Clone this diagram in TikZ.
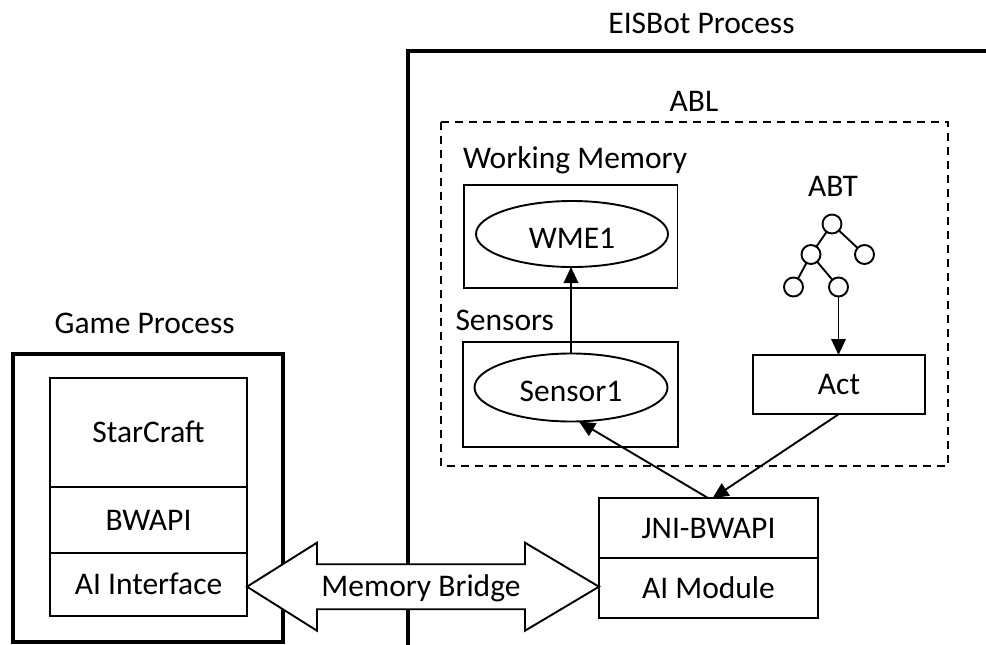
\documentclass[tikz,border=0pt]{standalone}
\usepackage{fontspec}
\setmainfont{Carlito}
\usetikzlibrary{arrows.meta,calc,shapes.geometric}
\begin{document}
\begin{tikzpicture}[x=1pt,y=-1pt,
  every node/.style={font=\fontsize{31.5}{38}\selectfont, inner sep=0pt, outer sep=0pt},
  thinline/.style={line width=1.9pt},
  thickframe/.style={line width=4pt},
  box/.style={draw, line width=1.9pt, rectangle, text height=20pt, text depth=0pt},
  oval/.style={draw, line width=1.9pt, ellipse, text height=28pt, text depth=0pt},
  tnode/.style={draw, line width=1.9pt, circle, minimum size=19pt},
  arr/.style={line width=1.9pt, -{Triangle[length=16pt,width=14.5pt]}},
  ablbox/.style={line width=2pt, dash pattern=on 8pt off 6pt},
]
\useasboundingbox (0,0) rectangle (986,645);

% EISBot process frame (open to the right and bottom)
\draw[thickframe] (407.5,660) -- (407.5,50.7) -- (1000,50.7);
\node[anchor=base] (eislbl) at (701.5,33.3) {EISBot Process};

% ABL dashed region
\draw[ablbox] (441,121.7) rectangle (947.7,466);
\node[anchor=base] (abllbl) at (694,111.7) {ABL};

% Working memory
\node[anchor=base west] (wmlbl) at (463,168) {Working Memory};
\node[draw, thinline, minimum width=213.5pt, minimum height=103pt] (wm) at (570.7,236.5) {};
\node[oval, minimum width=192pt, minimum height=66pt] (wme) at (572,234) {WME1};

% Sensors
\node[anchor=base west] (senlbl) at (455.5,330.7) {Sensors};
\node[draw, thinline, minimum width=214.4pt, minimum height=105pt] (sens) at (570.5,394.2) {};
\node[oval, minimum width=193pt, minimum height=68pt] (sen1) at (571,387.5) {Sensor1};

% ABT tree
\node[anchor=base] (abtlbl) at (833,196.7) {ABT};
\node[tnode] (t0) at (832,224) {};
\node[tnode] (t1) at (811,254.5) {};
\node[tnode] (t2) at (864.5,254.5) {};
\node[tnode] (t3) at (793.5,287) {};
\node[tnode] (t4) at (838.5,287) {};
\draw[thinline] (t0) -- (t1);
\draw[thinline] (t0) -- (t2);
\draw[thinline] (t1) -- (t3);
\draw[thinline] (t1) -- (t4);

% Act
\node[box, minimum width=172pt, minimum height=59pt] (act) at (839,384.5) {Act};

% JNI-BWAPI / AI Module
\node[box, minimum width=219pt, minimum height=60pt] (jni) at (708.5,528.3) {JNI-BWAPI};
\node[box, minimum width=219pt, minimum height=60pt] (aim) at (708.5,588.3) {AI Module};

% Game process
\node[anchor=base] (gplbl) at (144.7,333.3) {Game Process};
\draw[thickframe] (13,353.7) rectangle (283,642);
\node[box, minimum width=197pt, minimum height=109pt] (sc) at (148.5,432.5) {StarCraft};
\node[box, minimum width=197pt, minimum height=66pt] (bw) at (148.5,520) {BWAPI};
\node[box, minimum width=197pt, minimum height=63pt] (aii) at (148.5,584.5) {AI Interface};

% Arrows
\draw[arr] (sen1.north) -- (sen1.north |- wme.south);
\draw[arr] (t4) -- (t4 |- act.north);
\draw[arr] (jni.north) -- ($(sen1.south)+(8,0)$);
\draw[arr] (act.south) -- ($(jni.north)+(4,0)$);

% Memory bridge double arrow
\coordinate (mby) at (0,586.7);
\coordinate (mbl) at (aii.east |- mby);
\coordinate (mbr) at (aim.west |- mby);
\draw[thinline, fill=white] (mbl) -- ++(70,-44) -- ++(0,21.5) -- ($(mbr)+(-74,-22.5)$) -- ++(0,-21.5) -- (mbr) -- ++(-74,44) -- ++(0,-21.5) -- ($(mbl)+(70,22.5)$) -- ++(0,21.5) -- cycle;
\node[text height=20pt, text depth=0pt] (mblbl) at (421,586.7) {Memory Bridge};
\end{tikzpicture}
\end{document}
